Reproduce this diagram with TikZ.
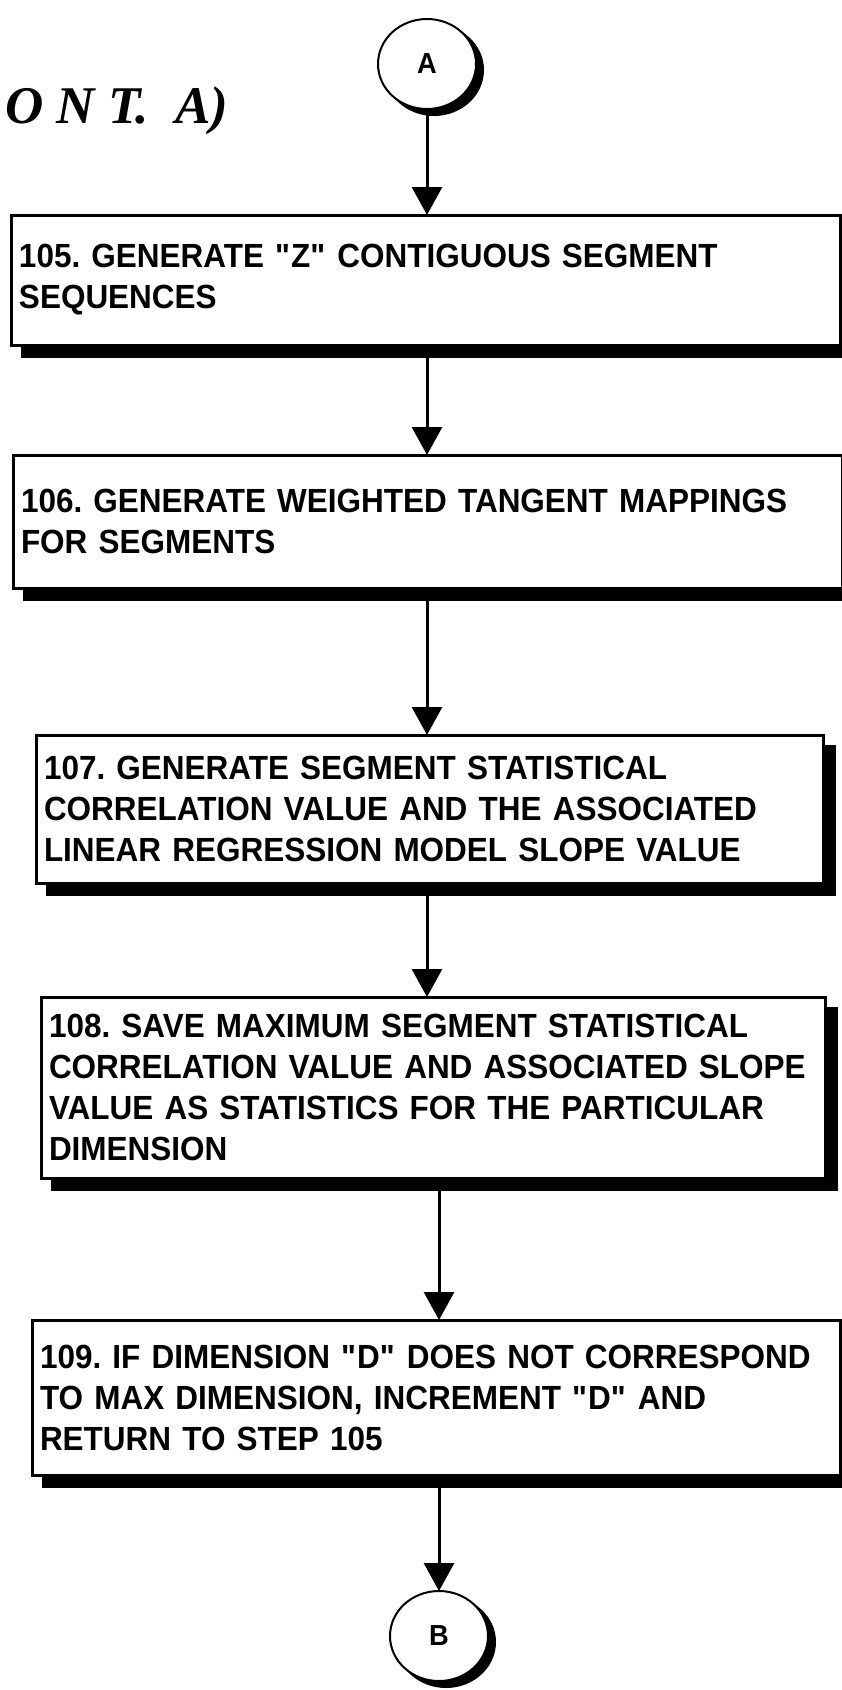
\documentclass[tikz,border=0pt]{standalone}
\usepackage{fontspec}
\setmainfont{Liberation Sans}[FakeStretch=0.94]
\newfontfamily\headfont{Liberation Serif}
\usetikzlibrary{arrows.meta,shapes.geometric,shadows}
\newcommand{\qt}{\textquotedbl}
\frenchspacing

\begin{document}
\begin{tikzpicture}[x=1pt,y=-1pt,
  every node/.style={font=\bfseries\fontsize{33.5}{41}\selectfont},
  stepbox/.style={draw,rectangle,line width=3pt,fill=white,anchor=north west,align=left,
    inner xsep=8pt,inner ysep=0pt,outer sep=0pt,
    copy shadow={shadow xshift=11pt,shadow yshift=-11pt,fill=black,draw=black}},
  conn/.style={draw,ellipse,line width=2pt,fill=white,minimum width=98pt,minimum height=90pt,
    inner sep=0pt,outer sep=0pt,font=\bfseries\fontsize{29}{29}\selectfont,
    copy shadow={shadow xshift=7pt,shadow yshift=-6pt,fill=black,draw=black}},
  flow/.style={-{Triangle[width=30pt,length=28pt]},line width=3pt}
]
\useasboundingbox (0,0) rectangle (842,1690);

\node[anchor=base west,inner sep=0pt,font=\headfont\bfseries\itshape\fontsize{53}{53}\selectfont] (cont) at (5,123) {O N T.\ \ A)};

\node[conn] (A) at (427,64) {A};
\node[stepbox,minimum width=829pt,minimum height=130pt,text width=813pt] (b105) at (11,215)
  {105. GENERATE \qt Z\qt{} CONTIGUOUS SEGMENT\\SEQUENCES};
\node[stepbox,minimum width=829pt,minimum height=133pt,text width=813pt] (b106) at (13,455)
  {106. GENERATE WEIGHTED TANGENT MAPPINGS\\FOR SEGMENTS};
\node[stepbox,minimum width=787pt,minimum height=148pt,text width=771pt] (b107) at (36,735)
  {107. GENERATE SEGMENT STATISTICAL\\CORRELATION VALUE AND THE ASSOCIATED\\LINEAR REGRESSION MODEL SLOPE VALUE};
\node[stepbox,minimum width=784pt,minimum height=181pt,text width=768pt] (b108) at (41,997)
  {108. SAVE MAXIMUM SEGMENT STATISTICAL\\CORRELATION VALUE AND ASSOCIATED SLOPE\\VALUE AS STATISTICS FOR THE PARTICULAR\\DIMENSION};
\node[stepbox,minimum width=808pt,minimum height=155pt,text width=792pt] (b109) at (32,1320)
  {109. IF DIMENSION \qt D\qt{} DOES NOT CORRESPOND\\TO MAX DIMENSION, INCREMENT \qt D\qt{} AND\\RETURN TO STEP 105};
\node[conn] (B) at (439,1636) {B};

% flow lines
\draw[flow] (A.south) -- (A.south |- b105.north);
\draw[flow] (b105.south -| A.south) -- (b106.north -| A.south);
\draw[flow] (b106.south -| A.south) -- (b107.north -| A.south);
\draw[flow] (b107.south -| A.south) -- (b108.north -| A.south);
\draw[flow] (b108.south -| B.north) -- (b109.north -| B.north);
\draw[flow] (b109.south -| B.north) -- (B.north);
\end{tikzpicture}
\end{document}
